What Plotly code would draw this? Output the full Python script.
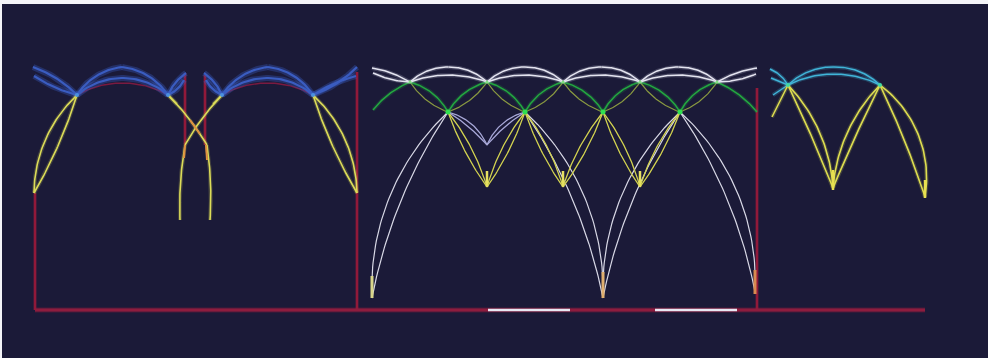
import numpy as np
import plotly.graph_objects as go

W, H = 988, 358
NAVY = "#1b1a38"

# ---------------------------------------------------------------------------
# Geometry of the vault elevation (screen units, y grows downward)
# Each rib: (start, end, sagitta); sagitta > 0 bulges to the left of travel.
# ---------------------------------------------------------------------------

# Bay 1 (left): springing nodes of the blue ribs
bay1_nodes = [(77, 95), (168, 95), (222, 95), (313, 95)]

bay1_blue = [
    ((33, 67), (77, 95), 3), ((34, 76), (77, 95), -2),
    ((77, 95), (122, 67), 6), ((122, 67), (168, 95), 6), ((77, 95), (168, 95), 17),
    ((168, 95), (186, 73), 2), ((168, 95), (184, 80), -2),
    ((222, 95), (204, 73), -2), ((222, 95), (206, 80), 2),
    ((222, 95), (268, 67), 6), ((268, 67), (313, 95), 6), ((222, 95), (313, 95), 17),
    ((313, 95), (357, 67), -3), ((313, 95), (356, 76), 2),
]
bay1_red_arcs = [((77, 95), (168, 95), 12), ((222, 95), (313, 95), 12)]
bay1_yellow = [
    ((77, 95), (34, 193), -11), ((77, 95), (34, 193), 3),
    ((313, 95), (357, 193), 11), ((313, 95), (357, 193), -3),
    # crossing ribs and their shafts
    ((168, 95), (207, 145), 2), ((207, 145), (210, 220), 2),
    ((222, 95), (185, 145), -2), ((185, 145), (180, 220), -2),
    ((168, 95), (177, 104), 0), ((222, 95), (213, 104), 0),
]
bay1_orange = [((185, 145), (184, 158)), ((206, 145), (207, 160)), ((190, 120), (200, 134))]

# Bay 2 (centre): three tiers of nodes
bay2_upper_x = [410, 487, 563, 640, 717]
bay2_upper_y = 82
bay2_lower_x = [448, 525, 603, 680]
bay2_lower_y = 112
bay2_v_x = [487, 563, 640]
bay2_v_y = 187
bay2_apex_y = 67
bay2_low_apex_y = 75

bay2_big = [
    ((448, 112), (372, 298), -22), ((448, 112), (372, 298), -10),
    ((525, 112), (603, 298), 22), ((525, 112), (603, 298), 10),
    ((680, 112), (603, 298), -22), ((680, 112), (603, 298), -10),
    ((680, 112), (755, 292), 22), ((680, 112), (755, 292), 10),
]
bay2_dip = [
    ((448, 112), (487, 145), 6), ((448, 112), (487, 145), 2),
    ((525, 112), (487, 145), -6), ((525, 112), (487, 145), -2),
]
bay2_white_ends = [
    ((372, 68), (410, 82), 2), ((373, 73), (410, 82), -2),
    ((717, 82), (757, 68), 2), ((717, 82), (756, 74), -2),
]
bay2_green_ends = [((373, 110), (410, 82), 3), ((717, 82), (757, 112), 3)]
bay2_stubs = [((372, 276), (372, 298)), ((603, 272), (603, 298)), ((755, 270), (755, 294))]
bay2_stub_colors = ["#d9d68a", "#e0b070", "#d88a50"]

# Bay 3 (right)
bay3_nodes = [(788, 85), (880, 85)]
bay3_cyan = [
    ((788, 85), (834, 67), 5), ((834, 67), (880, 85), 5), ((788, 85), (880, 85), 11),
    ((770, 69), (788, 85), 2), ((771, 78), (788, 85), 0), ((773, 95), (788, 85), 0),
]
bay3_yellow = [
    ((788, 85), (772, 117), 0),
    ((788, 85), (833, 188), 10), ((788, 85), (833, 188), 1),
    ((880, 85), (833, 188), -10), ((880, 85), (833, 188), -1),
    ((880, 85), (925, 197), 17), ((880, 85), (925, 197), 2),
]
bay3_stubs = [((833, 170), (833, 190)), ((925, 180), (925, 198))]

# Frame: walls and floor
walls = [((35, 193), (35, 310)), ((357, 72), (357, 310)), ((757, 88), (757, 310)),
         ((185, 73), (185, 145)), ((205, 75), (205, 145))]
floor = ((35, 310), (925, 310))
floor_white = [((488, 310), (570, 310)), ((655, 310), (737, 310))]


def arc_points(p0, p1, s, n=48):
    x0, y0 = p0
    x1, y1 = p1
    dx, dy = x1 - x0, y1 - y0
    L = np.hypot(dx, dy)
    if abs(s) < 1e-6:
        return [x0, x1], [y0, y1]
    w = np.array([dx, dy]) / L
    nl = np.array([dy, -dx]) / L
    M = np.array([(x0 + x1) / 2, (y0 + y1) / 2])
    R = (L * L / 4 + s * s) / (2 * abs(s))
    u = np.sign(s) * nl
    C = M + u * (abs(s) - R)
    phi = np.arccos(np.clip((R - abs(s)) / R, -1, 1))
    a = np.linspace(-phi, phi, n)
    pts = C[None, :] + R * (np.outer(np.cos(a), u) + np.outer(np.sin(a), w))
    return list(pts[:, 0]), list(pts[:, 1])


def collect(ribs):
    xs, ys = [], []
    for p0, p1, s in ribs:
        ax, ay = arc_points(p0, p1, s)
        xs += ax + [None]
        ys += ay + [None]
    return xs, ys


def segs(lines):
    return collect([(a, b, 0) for a, b in lines])


# derived ribs of bay 2
white_top = list(bay2_white_ends)
for a, b in zip(bay2_upper_x[:-1], bay2_upper_x[1:]):
    m = (a + b) / 2
    white_top += [((a, bay2_upper_y), (m, bay2_apex_y), 4), ((m, bay2_apex_y), (b, bay2_upper_y), 4),
                  ((a, bay2_upper_y), (b, bay2_upper_y), bay2_upper_y - bay2_low_apex_y)]
green_bright, green_olive = list(bay2_green_ends), []
for lx in bay2_lower_x:
    ul = max(u for u in bay2_upper_x if u < lx)
    ur = min(u for u in bay2_upper_x if u > lx)
    green_bright += [((ul, bay2_upper_y), (lx, bay2_lower_y), 5), ((lx, bay2_lower_y), (ur, bay2_upper_y), 5)]
    green_olive += [((ul, bay2_upper_y), (lx, bay2_lower_y), -4), ((lx, bay2_lower_y), (ur, bay2_upper_y), -4)]
yellow_v = []
for vx in bay2_v_x:
    ll = max(x for x in bay2_lower_x if x < vx)
    lr = min(x for x in bay2_lower_x if x > vx)
    yellow_v += [((ll, bay2_lower_y), (vx, bay2_v_y), 4), ((ll, bay2_lower_y), (vx, bay2_v_y), -3),
                 ((lr, bay2_lower_y), (vx, bay2_v_y), -4), ((lr, bay2_lower_y), (vx, bay2_v_y), 3)]
v_stubs = [((vx, bay2_v_y - 16), (vx, bay2_v_y)) for vx in bay2_v_x]

fig = go.Figure()


def add(xy, color, width, glow=None, glow_w=0):
    xs, ys = xy
    if glow:
        fig.add_trace(go.Scatter(x=xs, y=ys, mode="lines", hoverinfo="skip",
                                 line=dict(color=glow, width=glow_w)))
    fig.add_trace(go.Scatter(x=xs, y=ys, mode="lines", hoverinfo="skip",
                             line=dict(color=color, width=width)))


# walls and floor
add(segs(walls), "#9a1a3a", 1.8, "rgba(154,26,58,0.3)", 4)
add(segs([floor]), "#8e1c3e", 3, "rgba(142,28,62,0.4)", 5)
add(segs(floor_white), "#e8e8f4", 2.5)

# bay 1
add(collect(bay1_red_arcs), "#7a1a40", 1.4)
add(collect(bay1_blue), "#3a5cc0", 2.2, "rgba(58,92,192,0.35)", 6)
add(collect(bay1_yellow), "#dcdc58", 1.6, "rgba(220,220,88,0.2)", 4)
add(segs(bay1_orange), "#e09040", 2)

# bay 2
add(collect(green_olive), "#8a9a40", 1.2)
add(collect(green_bright), "#23a840", 1.5, "rgba(35,168,64,0.2)", 4)
add(collect(white_top), "#e4e4f0", 1.5, "rgba(220,220,240,0.2)", 4)
add(collect(bay2_big), "#d8d8e6", 1.2)
add(collect(bay2_dip), "#a8a8d8", 1.3)
add(collect(yellow_v), "#d4d450", 1.3)
add(segs(v_stubs), "#e6e060", 2.5)
for (p0, p1), c in zip(bay2_stubs, bay2_stub_colors):
    add(segs([(p0, p1)]), c, 3)

# bay 3
add(collect(bay3_cyan), "#40b4d8", 1.5, "rgba(64,180,216,0.25)", 4)
add(collect(bay3_yellow), "#dede50", 1.6, "rgba(222,222,80,0.2)", 4)
add(segs(bay3_stubs), "#e8e050", 2.5)

# rib junctions
fig.add_trace(go.Scatter(x=[p[0] for p in bay1_nodes], y=[p[1] for p in bay1_nodes], mode="markers",
                         hoverinfo="skip", marker=dict(color="#4a90e0", size=4)))
fig.add_trace(go.Scatter(x=bay2_lower_x, y=[bay2_lower_y] * len(bay2_lower_x), mode="markers",
                         hoverinfo="skip", marker=dict(color="#30e050", size=5)))
fig.add_trace(go.Scatter(x=bay2_upper_x, y=[bay2_upper_y] * len(bay2_upper_x), mode="markers",
                         hoverinfo="skip", marker=dict(color="#80e080", size=3)))
fig.add_trace(go.Scatter(x=[p[0] for p in bay3_nodes], y=[p[1] for p in bay3_nodes], mode="markers",
                         hoverinfo="skip", marker=dict(color="#40d8a0", size=4)))

fig.update_layout(
    width=W, height=H,
    margin=dict(l=2, r=0, t=4, b=0),
    paper_bgcolor="#f4f4f8",
    plot_bgcolor=NAVY,
    showlegend=False,
    xaxis=dict(range=[2, W], visible=False, fixedrange=True),
    yaxis=dict(range=[H, 4], visible=False, fixedrange=True),
)

fig.write_html("out.html", config=dict(displayModeBar=False))
